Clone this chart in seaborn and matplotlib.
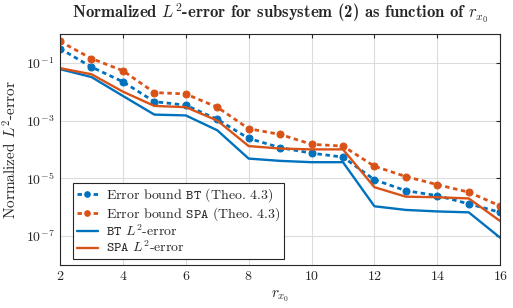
import matplotlib
matplotlib.use("Agg")
import matplotlib.pyplot as plt
import numpy as np
import pandas as pd
import seaborn as sns

# reduced order r_x0
r_x0 = [2, 3, 4, 5, 6, 7, 8, 9, 10, 11, 12, 13, 14, 15, 16]

# error bounds (Theo. 4.3)
bound_bt = [0.31, 0.071, 0.022, 4.5e-3, 3.4e-3, 1.1e-3, 2.4e-4, 1.15e-4,
            7.4e-5, 5.4e-5, 8.9e-6, 3.7e-6, 2.5e-6, 1.3e-6, 6.6e-7]
bound_spa = [0.55, 0.14, 0.053, 9.3e-3, 8.3e-3, 2.9e-3, 5.2e-4, 3.3e-4,
             1.5e-4, 1.3e-4, 2.6e-5, 1.15e-5, 6.0e-6, 3.3e-6, 1.1e-6]

# actual normalized L2 errors
err_bt = [0.06, 0.032, 7.1e-3, 1.6e-3, 1.5e-3, 4.6e-4, 4.8e-5, 4.0e-5,
          3.6e-5, 3.6e-5, 1.07e-6, 8.0e-7, 7.1e-7, 6.6e-7, 8.7e-8]
err_spa = [0.065, 0.04, 0.01, 3.2e-3, 2.9e-3, 1.0e-3, 1.3e-4, 1.07e-4,
           1.0e-4, 1.0e-4, 4.9e-6, 2.3e-6, 2.2e-6, 2.0e-6, 3.3e-7]

blue = "#0072BD"
orange = "#D95319"

sns.set_style("whitegrid")
plt.rcParams["font.family"] = "serif"
plt.rcParams["font.serif"] = ["cmr10", "DejaVu Serif"]
plt.rcParams["mathtext.fontset"] = "cm"
plt.rcParams["axes.formatter.use_mathtext"] = True

fig = plt.figure(figsize=(5.13, 3.08), dpi=100)
ax = fig.add_axes([0.117, 0.140, 0.858, 0.750])

sns.lineplot(x=r_x0, y=bound_bt, ax=ax, color=blue, lw=2, dashes=(1.6, 1.3),
             marker="o", markersize=5, markeredgecolor=blue,
             label=r"Error bound $\mathtt{BT}$ (Theo. 4.3)")
sns.lineplot(x=r_x0, y=bound_spa, ax=ax, color=orange, lw=2, dashes=(1.6, 1.3),
             marker="o", markersize=5, markeredgecolor=orange,
             label=r"Error bound $\mathtt{SPA}$ (Theo. 4.3)")
sns.lineplot(x=r_x0, y=err_bt, ax=ax, color=blue, lw=1.7,
             label=r"$\mathtt{BT}$ $L^2$-error")
sns.lineplot(x=r_x0, y=err_spa, ax=ax, color=orange, lw=1.7,
             label=r"$\mathtt{SPA}$ $L^2$-error")

ax.set_yscale("log")
ax.set_xlim(2, 16)
ax.set_ylim(1e-8, 1e0)
ax.set_xticks([2, 4, 6, 8, 10, 12, 14, 16])
ax.set_yticks([1e-7, 1e-5, 1e-3, 1e-1])
ax.minorticks_off()
ax.tick_params(direction="in", length=3, labelsize=10, top=True, right=True,
               pad=4)
ax.grid(True, color="#dcdcdc", lw=0.8)
for s in ax.spines.values():
    s.set_color("#262626")
    s.set_linewidth(0.8)

ax.set_xlabel(r"$r_{x_0}$", fontsize=11)
ax.set_ylabel(r"Normalized $L^2$-error", fontsize=11)
ax.set_title(r"Normalized $L^2$-error for subsystem (2) as function of $r_{x_0}$",
             fontsize=12, fontfamily="cmb10", pad=11)

leg = ax.legend(loc="lower left", bbox_to_anchor=(0.03, 0.026), fontsize=10,
                frameon=True, fancybox=False, edgecolor="#262626",
                framealpha=1, handlelength=1.5, handletextpad=0.6,
                borderpad=0.25, labelspacing=0.05, borderaxespad=0,
                markerscale=0.8)
leg.get_frame().set_linewidth(0.8)

fig.savefig("out.png", dpi=100)
